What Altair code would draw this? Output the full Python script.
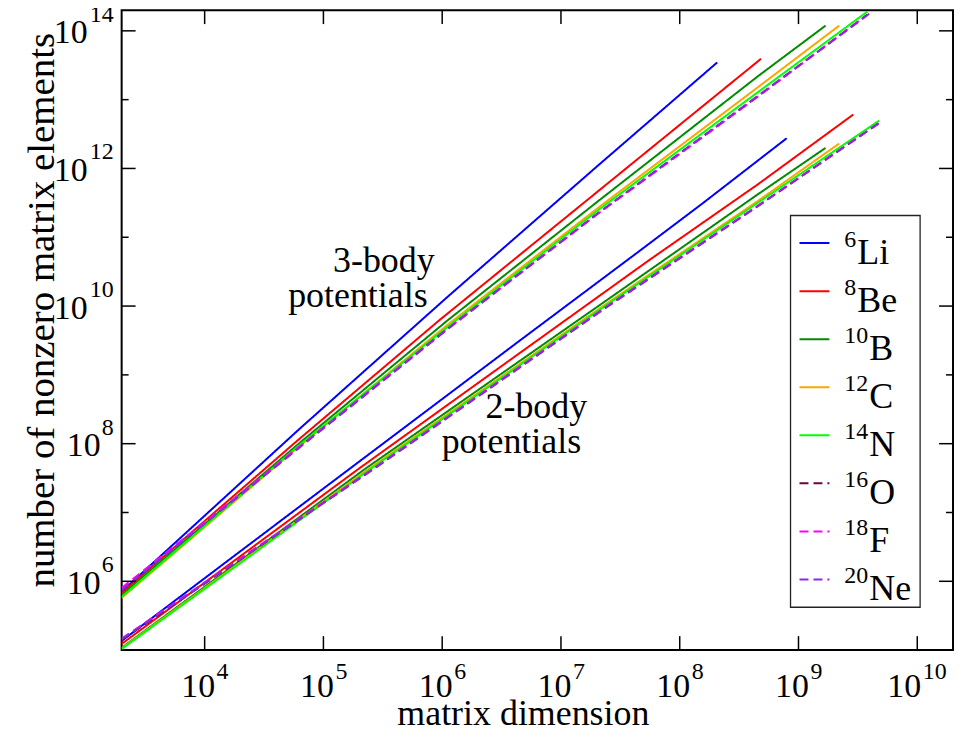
import altair as alt
import pandas as pd

FONT = "Liberation Serif, Times New Roman, serif"

# ---------------- data ----------------
keys = ["Li6", "Be8", "B10", "C12", "N14", "O16", "F18", "Ne20"]
sup_labels = ["6", "8", "10", "12", "14", "16", "18", "20"]
base_labels = ["Li", "Be", "B", "C", "N", "O", "F", "Ne"]
colors = ["#0000ff", "#ff0000", "#008b00", "#ffa500", "#00ff00", "#670748", "#ff00ff", "#8a2be2"]
dashes = [[1, 0], [1, 0], [1, 0], [1, 0], [1, 0], [9, 5], [9, 5], [9, 5]]

# 3-body potentials: matrix dimension / number of nonzero matrix elements
li3_dim = [2.0e3, 6.24e4, 1.13e6, 2.06e7, 2.07e8]
li3_nnz = [7.06e5, 1.62e8, 1.40e10, 1.11e12, 3.48e13]
be3_dim = [2.0e3, 6.08e4, 9.35e5, 2.06e7, 4.84e8]
be3_nnz = [6.76e5, 1.12e8, 6.12e9, 4.69e11, 3.93e13]
b3_dim = [2.0e3, 6.70e4, 1.10e6, 2.06e7, 4.54e8, 1.69e9]
b3_nnz = [6.33e5, 1.12e8, 6.12e9, 3.36e11, 2.18e13, 1.19e14]
c3_dim = [2.0e3, 6.24e4, 1.14e6, 2.06e7, 4.54e8, 2.20e9]
c3_nnz = [5.73e5, 9.14e7, 5.54e9, 2.69e11, 1.51e13, 1.19e14]
n3_dim = [2.0e3, 6.24e4, 1.14e6, 2.06e7, 4.54e8, 3.81e9]
n3_nnz = [5.92e5, 9.44e7, 5.18e9, 2.49e11, 1.28e13, 1.91e14]
o3_dim = [2.0e3, 6.24e4, 1.14e6, 2.06e7, 4.54e8, 3.81e9]
o3_nnz = [7.48e5, 8.83e7, 4.85e9, 2.25e11, 1.12e13, 1.72e14]
f3_dim = [2.0e3, 6.24e4, 1.14e6, 2.06e7, 4.54e8, 3.66e9]
f3_nnz = [8.00e5, 8.99e7, 4.85e9, 2.21e11, 1.10e13, 1.64e14]
ne3_dim = [2.0e3, 6.24e4, 1.14e6, 2.06e7, 4.54e8, 3.96e9]
ne3_nnz = [7.48e5, 8.69e7, 4.77e9, 2.25e11, 1.13e13, 1.78e14]

# 2-body potentials
li2_dim = [2.0e3, 9.55e4, 4.38e6, 4.47e7, 1.57e8, 7.96e8]
li2_nnz = [1.36e5, 2.10e7, 3.04e9, 6.12e10, 3.14e11, 2.75e12]
be2_dim = [2.0e3, 1.99e5, 4.38e6, 5.42e7, 4.54e8, 2.89e9]
be2_nnz = [1.23e5, 4.34e7, 2.01e9, 4.54e10, 5.86e11, 6.07e12]
b2_dim = [2.0e3, 2.26e5, 2.50e7, 4.54e8, 1.69e9]
b2_nnz = [1.08e5, 4.34e7, 1.26e10, 4.20e11, 1.99e12]
c2_dim = [2.0e3, 2.42e5, 2.50e7, 4.54e8, 2.20e9]
c2_nnz = [1.06e5, 4.34e7, 1.13e10, 3.36e11, 2.30e12]
n2_dim = [2.0e3, 2.51e5, 2.50e7, 4.54e8, 4.78e9]
n2_nnz = [1.04e5, 4.34e7, 1.08e10, 3.17e11, 4.96e12]
o2_dim = [2.0e3, 2.66e5, 2.50e7, 4.54e8, 4.78e9]
o2_nnz = [1.40e5, 4.34e7, 1.01e10, 2.84e11, 4.58e12]
f2_dim = [2.0e3, 2.66e5, 2.50e7, 4.54e8, 4.72e9]
f2_nnz = [1.47e5, 4.40e7, 1.02e10, 2.86e11, 4.52e12]
ne2_dim = [2.0e3, 2.66e5, 2.50e7, 4.54e8, 4.80e9]
ne2_nnz = [1.44e5, 4.30e7, 1.00e10, 2.82e11, 4.60e12]

x_tick_exp = [4, 5, 6, 7, 8, 9, 10]
y_major_exp = [6, 8, 10, 12, 14]
y_minor_exp = [7, 9, 11, 13]

x_title = "matrix dimension"
y_title = "number of nonzero matrix elements"
annotations = ["3-body", "potentials", "2-body", "potentials"]

# ---------------- build tables ----------------
curves = {
    "Li6": (li3_dim, li3_nnz, li2_dim, li2_nnz),
    "Be8": (be3_dim, be3_nnz, be2_dim, be2_nnz),
    "B10": (b3_dim, b3_nnz, b2_dim, b2_nnz),
    "C12": (c3_dim, c3_nnz, c2_dim, c2_nnz),
    "N14": (n3_dim, n3_nnz, n2_dim, n2_nnz),
    "O16": (o3_dim, o3_nnz, o2_dim, o2_nnz),
    "F18": (f3_dim, f3_nnz, f2_dim, f2_nnz),
    "Ne20": (ne3_dim, ne3_nnz, ne2_dim, ne2_nnz),
}
rows = []
for k in keys:
    d3, n3, d2, n2 = curves[k]
    for d, n in zip(d3, n3):
        rows.append({"nucleus": k, "series": k + "-3", "dim": d, "nnz": n})
    for d, n in zip(d2, n2):
        rows.append({"nucleus": k, "series": k + "-2", "dim": d, "nnz": n})
df = pd.DataFrame(rows)

W, H = 834, 642
xs = alt.Scale(type="log", domain=[2e3, 2e10])
ys = alt.Scale(type="log", domain=[1e5, 2e14])
cs = alt.Scale(domain=keys, range=colors)
ds = alt.Scale(domain=keys, range=dashes)

layers = []
for k in keys:
    layers.append(
        alt.Chart(df).transform_filter(alt.datum.nucleus == k)
        .mark_line(strokeWidth=2, clip=True)
        .encode(
            x=alt.X("dim:Q", scale=xs, axis=None),
            y=alt.Y("nnz:Q", scale=ys, axis=None),
            color=alt.Color("nucleus:N", scale=cs, legend=None),
            strokeDash=alt.StrokeDash("nucleus:N", scale=ds, legend=None),
            detail="series:N",
            order=alt.Order("dim:Q"),
        )
    )

xt = pd.DataFrame({"dim": [10.0 ** e for e in x_tick_exp], "e": [str(e) for e in x_tick_exp]})
ytM = pd.DataFrame({"nnz": [10.0 ** e for e in y_major_exp], "e": [str(e) for e in y_major_exp]})
ytm = pd.DataFrame({"nnz": [10.0 ** e for e in y_minor_exp]})

tick = dict(color="black", strokeWidth=1.5)
X = alt.X("dim:Q", scale=xs, axis=None)
Y = alt.Y("nnz:Q", scale=ys, axis=None)
layers += [
    alt.Chart(xt).mark_rule(**tick).encode(x=X, y=alt.value(H), y2=alt.value(H - 14)),
    alt.Chart(xt).mark_rule(**tick).encode(x=X, y=alt.value(0), y2=alt.value(14)),
    alt.Chart(ytM).mark_rule(**tick).encode(y=Y, x=alt.value(0), x2=alt.value(14)),
    alt.Chart(ytM).mark_rule(**tick).encode(y=Y, x=alt.value(W - 14), x2=alt.value(W)),
    alt.Chart(ytm).mark_rule(**tick).encode(y=Y, x=alt.value(0), x2=alt.value(7)),
    alt.Chart(ytm).mark_rule(**tick).encode(y=Y, x=alt.value(W - 7), x2=alt.value(W)),
]

# tick labels "10" + superscript exponent
for ndig, dx_base, dx_exp in [(1, 10.5, 12.0), (2, 4.0, 5.5)]:
    flt = f"length(datum.e) == {ndig}"
    layers.append(
        alt.Chart(xt).transform_filter(flt)
        .mark_text(text="10", align="right", baseline="alphabetic", font=FONT, fontSize=34, dx=dx_base, color="black")
        .encode(x=X, y=alt.value(689.5))
    )
    layers.append(
        alt.Chart(xt).transform_filter(flt)
        .mark_text(align="left", baseline="alphabetic", font=FONT, fontSize=24, dx=dx_exp, color="black")
        .encode(x=X, y=alt.value(671), text="e:N")
    )
for ndig, xb in [(1, -21), (2, -34)]:
    flt = f"length(datum.e) == {ndig}"
    layers.append(
        alt.Chart(ytM).transform_filter(flt)
        .mark_text(text="10", align="right", baseline="alphabetic", font=FONT, fontSize=34, dy=12.5, color="black")
        .encode(y=Y, x=alt.value(xb))
    )
    layers.append(
        alt.Chart(ytM).transform_filter(flt)
        .mark_text(align="right", baseline="alphabetic", font=FONT, fontSize=24, dy=-9, color="black")
        .encode(y=Y, x=alt.value(-8), text="e:N")
    )

one = pd.DataFrame({"a": [0]})
# axis titles
layers.append(
    alt.Chart(one).mark_text(text=x_title, align="center", baseline="alphabetic", font=FONT, fontSize=36, color="black")
    .encode(x=alt.value(403), y=alt.value(717))
)
layers.append(
    alt.Chart(one).mark_text(text=y_title, angle=270, align="center", baseline="alphabetic", font=FONT, fontSize=39, color="black")
    .encode(x=alt.value(-68), y=alt.value(301))
)
# annotations
ann_pos = [(263, 263), (237, 298), (416, 409), (391, 444)]
for t, (ax, ay) in zip(annotations, ann_pos):
    layers.append(
        alt.Chart(one).mark_text(text=t, align="center", baseline="alphabetic", font=FONT, fontSize=36, color="black")
        .encode(x=alt.value(ax), y=alt.value(ay))
    )

# legend
leg = pd.DataFrame({"nucleus": keys, "sup": sup_labels, "base": base_labels, "row": list(range(len(keys)))})
layers.append(
    alt.Chart(one).mark_rect(fill="white", stroke="#222222", strokeWidth=1.3)
    .encode(x=alt.value(671), x2=alt.value(801), y=alt.value(206), y2=alt.value(599))
)
legbase = alt.Chart(leg).transform_calculate(
    yc="233.7 + 48.2 * datum.row",
    xb="725 + 12 * length(datum.sup) + 1",
)
layers += [
    legbase.mark_rule(strokeWidth=2).encode(
        x=alt.value(680), x2=alt.value(710),
        y=alt.Y("yc:Q", scale=None, axis=None),
        color=alt.Color("nucleus:N", scale=cs, legend=None),
        strokeDash=alt.StrokeDash("nucleus:N", scale=ds, legend=None),
    ),
    legbase.mark_text(align="left", baseline="alphabetic", font=FONT, fontSize=24, dy=4, color="black").encode(
        x=alt.value(725), y=alt.Y("yc:Q", scale=None, axis=None), text="sup:N"
    ),
    legbase.mark_text(align="left", baseline="alphabetic", font=FONT, fontSize=36, dy=20.5, color="black").encode(
        x=alt.X("xb:Q", scale=None, axis=None), y=alt.Y("yc:Q", scale=None, axis=None), text="base:N"
    ),
]

chart = (
    alt.layer(*layers)
    .properties(
        width=W, height=H,
        padding={"left": 114, "top": 1, "right": 4, "bottom": 76},
        autosize=alt.AutoSizeParams(type="none"),
        background="white",
    )
    .configure_view(stroke="black", strokeWidth=2)
)

chart.save("out.html", embed_options={"renderer": "svg", "actions": False})
